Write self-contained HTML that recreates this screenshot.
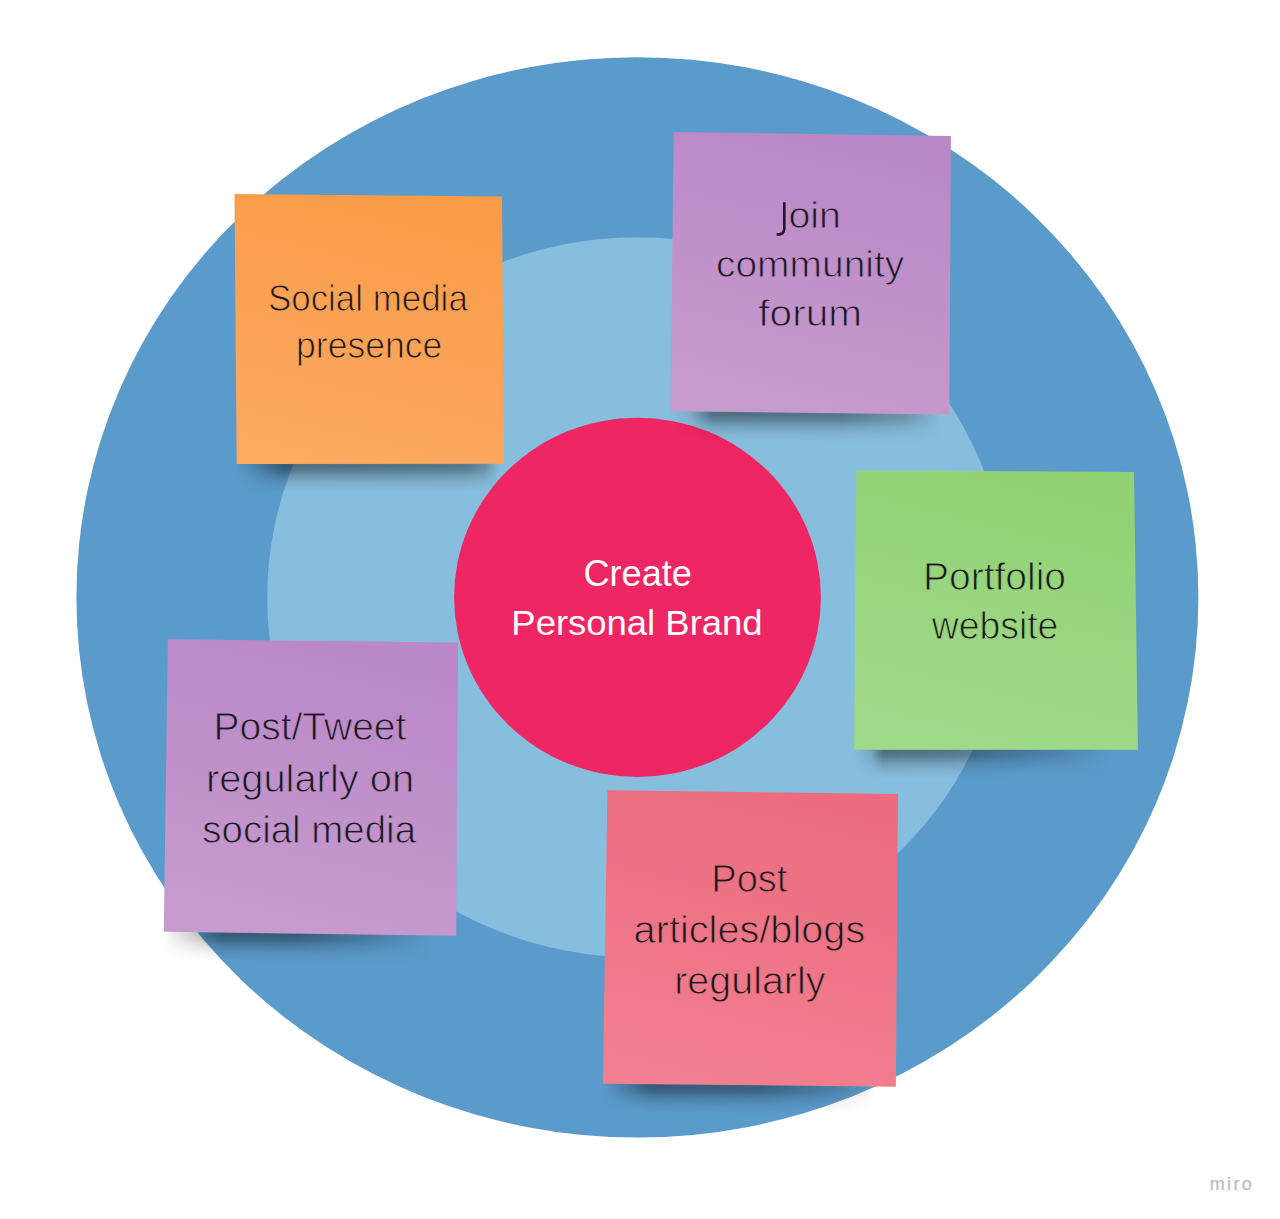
<!DOCTYPE html>
<html>
<head>
<meta charset="utf-8">
<style>
html,body{margin:0;padding:0;background:#ffffff;overflow:hidden;}
body{width:1280px;height:1219px;overflow:hidden;position:relative;}
svg{position:absolute;left:0;top:0;display:block;}
text{font-family:"Liberation Sans", sans-serif;}
.dk{fill:#1c1a1e;}
</style>
</head>
<body>
<svg width="1280" height="1219" viewBox="0 0 1280 1219">
<defs>
  <filter id="sb" x="-10%" y="-50%" width="120%" height="200%"><feGaussianBlur stdDeviation="1.5"/></filter>
  <linearGradient id="sv" x1="0" y1="0" x2="0" y2="1">
    <stop offset="0" stop-color="#000" stop-opacity="0.46"/>
    <stop offset="0.25" stop-color="#000" stop-opacity="0.37"/>
    <stop offset="0.5" stop-color="#000" stop-opacity="0.18"/>
    <stop offset="0.75" stop-color="#000" stop-opacity="0.06"/>
    <stop offset="1" stop-color="#000" stop-opacity="0"/>
  </linearGradient>
  <filter id="blur" x="-20%" y="-50%" width="140%" height="200%"><feGaussianBlur stdDeviation="5"/></filter>
  <linearGradient id="gOr" gradientUnits="userSpaceOnUse" x1="401.8" y1="195" x2="337.2" y2="464">
    <stop offset="0" stop-color="#f99c48"/><stop offset="1" stop-color="#fca961"/>
  </linearGradient>
  <linearGradient id="gPu1" gradientUnits="userSpaceOnUse" x1="844.6" y1="134" x2="777.4" y2="413">
    <stop offset="0" stop-color="#ba87c7"/><stop offset="1" stop-color="#c69bce"/>
  </linearGradient>
  <linearGradient id="gGr" gradientUnits="userSpaceOnUse" x1="1030.1" y1="471" x2="961.9" y2="750">
    <stop offset="0" stop-color="#91d274"/><stop offset="1" stop-color="#a1d98a"/>
  </linearGradient>
  <linearGradient id="gPu2" gradientUnits="userSpaceOnUse" x1="346.3" y1="641" x2="275.7" y2="934">
    <stop offset="0" stop-color="#ba87c7"/><stop offset="1" stop-color="#c69bce"/>
  </linearGradient>
  <linearGradient id="gPk" gradientUnits="userSpaceOnUse" x1="785.9" y1="792" x2="715.1" y2="1085">
    <stop offset="0" stop-color="#ec6b7f"/><stop offset="1" stop-color="#f17f8f"/>
  </linearGradient>
  <linearGradient id="mx_or" x1="0" y1="0" x2="1" y2="0"><stop offset="0" stop-color="#fff" stop-opacity="0"/><stop offset="0.04" stop-color="#fff" stop-opacity="0.2"/><stop offset="0.17" stop-color="#fff" stop-opacity="1"/><stop offset="0.85" stop-color="#fff" stop-opacity="0.9"/><stop offset="0.93" stop-color="#fff" stop-opacity="0.6"/><stop offset="0.985" stop-color="#fff" stop-opacity="0"/></linearGradient>
  <mask id="m_or" maskContentUnits="objectBoundingBox"><rect x="0" y="0" width="1" height="1" fill="url(#mx_or)"/></mask>
  <linearGradient id="mx_pu1" x1="0" y1="0" x2="1" y2="0"><stop offset="0" stop-color="#fff" stop-opacity="0"/><stop offset="0.07" stop-color="#fff" stop-opacity="0.2"/><stop offset="0.15" stop-color="#fff" stop-opacity="1"/><stop offset="0.6" stop-color="#fff" stop-opacity="0.9"/><stop offset="0.85" stop-color="#fff" stop-opacity="0.5"/><stop offset="0.97" stop-color="#fff" stop-opacity="0"/></linearGradient>
  <mask id="m_pu1" maskContentUnits="objectBoundingBox"><rect x="0" y="0" width="1" height="1" fill="url(#mx_pu1)"/></mask>
  <linearGradient id="mx_gr" x1="0" y1="0" x2="1" y2="0"><stop offset="0" stop-color="#fff" stop-opacity="0"/><stop offset="0.06" stop-color="#fff" stop-opacity="0.3"/><stop offset="0.1" stop-color="#fff" stop-opacity="1"/><stop offset="0.35" stop-color="#fff" stop-opacity="0.9"/><stop offset="0.55" stop-color="#fff" stop-opacity="0.6"/><stop offset="0.75" stop-color="#fff" stop-opacity="0.3"/><stop offset="0.9" stop-color="#fff" stop-opacity="0"/></linearGradient>
  <mask id="m_gr" maskContentUnits="objectBoundingBox"><rect x="0" y="0" width="1" height="1" fill="url(#mx_gr)"/></mask>
  <linearGradient id="mx_pu2" x1="0" y1="0" x2="1" y2="0"><stop offset="0" stop-color="#fff" stop-opacity="0"/><stop offset="0.04" stop-color="#fff" stop-opacity="0.2"/><stop offset="0.12" stop-color="#fff" stop-opacity="0.55"/><stop offset="0.2" stop-color="#fff" stop-opacity="1"/><stop offset="0.45" stop-color="#fff" stop-opacity="0.95"/><stop offset="0.7" stop-color="#fff" stop-opacity="0.5"/><stop offset="0.92" stop-color="#fff" stop-opacity="0"/></linearGradient>
  <mask id="m_pu2" maskContentUnits="objectBoundingBox"><rect x="0" y="0" width="1" height="1" fill="url(#mx_pu2)"/></mask>
  <linearGradient id="mx_pk" x1="0" y1="0" x2="1" y2="0"><stop offset="0" stop-color="#fff" stop-opacity="0"/><stop offset="0.05" stop-color="#fff" stop-opacity="0.3"/><stop offset="0.16" stop-color="#fff" stop-opacity="1"/><stop offset="0.55" stop-color="#fff" stop-opacity="0.9"/><stop offset="0.78" stop-color="#fff" stop-opacity="0.45"/><stop offset="0.93" stop-color="#fff" stop-opacity="0"/></linearGradient>
  <mask id="m_pk" maskContentUnits="objectBoundingBox"><rect x="0" y="0" width="1" height="1" fill="url(#mx_pk)"/></mask>
</defs>

<!-- circles -->
<ellipse cx="637.4" cy="597.4" rx="561" ry="540.2" fill="#5b9bcb"/>
<ellipse cx="637.4" cy="597.4" rx="370.2" ry="360.1" fill="#88bedd"/>
<ellipse cx="637.5" cy="597.3" rx="183.4" ry="179.6" fill="#ee2663"/>
<text x="637.7" y="586" font-size="36.0" fill="#ffffff" text-anchor="middle" transform="translate(637.7 0) scale(1.0045 1) translate(-637.7 0)">Create</text>
<text x="637.0" y="635" font-size="36.0" fill="#ffffff" text-anchor="middle" transform="translate(637.0 0) scale(1.0129 1) translate(-637.0 0)">Personal Brand</text>

<!-- orange note -->
<rect x="236.7" y="462.4" width="267.3" height="30" fill="url(#sv)" mask="url(#m_or)" transform="rotate(-0.021 236.7 463.9)" filter="url(#sb)"/>
<polygon points="234.5,194 502,196.6 504,463.8 236.7,463.9" fill="url(#gOr)"/>
<text class="dk" x="367.88" y="311" font-size="36.8" text-anchor="middle" transform="translate(367.88 0) scale(0.9490 1) translate(-367.88 0)" stroke="url(#gOr)" stroke-width="0.9">Social media</text>
<text class="dk" x="369.19" y="358" font-size="36.8" text-anchor="middle" transform="translate(369.19 0) scale(0.9666 1) translate(-369.19 0)" stroke="url(#gOr)" stroke-width="0.9">presence</text>

<!-- purple note 1 -->
<rect x="670.4" y="409.7" width="278.9" height="30" fill="url(#sv)" mask="url(#m_pu1)" transform="rotate(0.657 670.4 411.2)" filter="url(#sb)"/>
<polygon points="673.8,132 950.9,136.1 949.3,414.4 670.4,411.2" fill="url(#gPu1)"/>
<path d="M784.3,202.2 V228.6 C784.3,233.2 781.6,234.9 776.6,234.2" fill="none" stroke="#1c1a1e" stroke-width="2.6"/>
<text class="dk" x="788.4" y="228" font-size="37.2" transform="translate(788.4 0) scale(1.06 1) translate(-788.4 0)" stroke="url(#gPu1)" stroke-width="0.9">oin</text>
<text class="dk" x="810.15" y="277" font-size="37.2" text-anchor="middle" transform="translate(810.15 0) scale(1.0474 1) translate(-810.15 0)" stroke="url(#gPu1)" stroke-width="0.9">community</text>
<text class="dk" x="810.16" y="326" font-size="37.2" text-anchor="middle" transform="translate(810.16 0) scale(1.0897 1) translate(-810.16 0)" stroke="url(#gPu1)" stroke-width="0.9">forum</text>

<!-- green note -->
<rect x="854.1" y="748.3" width="283.8" height="30" fill="url(#sv)" mask="url(#m_gr)" transform="rotate(-0.020 854.1 749.8)" filter="url(#sb)"/>
<polygon points="856.4,470.4 1134,471.9 1137.9,749.7 854.1,749.8" fill="url(#gGr)"/>
<text class="dk" x="994.49" y="590" font-size="38.2" text-anchor="middle" transform="translate(994.49 0) scale(1.0213 1) translate(-994.49 0)" stroke="url(#gGr)" stroke-width="0.9">Portfolio</text>
<text class="dk" x="995.09" y="639" font-size="38.2" text-anchor="middle" transform="translate(995.09 0) scale(0.9776 1) translate(-995.09 0)" stroke="url(#gGr)" stroke-width="0.9">website</text>

<!-- purple note 2 -->
<rect x="163.8" y="930.2" width="292.4" height="30" fill="url(#sv)" mask="url(#m_pu2)" transform="rotate(0.803 163.8 931.7)" filter="url(#sb)"/>
<polygon points="167.9,639.2 458.1,642.6 456.2,935.8 163.8,931.7" fill="url(#gPu2)"/>
<text class="dk" x="309.93" y="740" font-size="38.2" text-anchor="middle" transform="translate(309.93 0) scale(1.0214 1) translate(-309.93 0)" stroke="url(#gPu2)" stroke-width="0.9">Post/Tweet</text>
<text class="dk" x="309.98" y="792" font-size="38.2" text-anchor="middle" transform="translate(309.98 0) scale(1.0435 1) translate(-309.98 0)" stroke="url(#gPu2)" stroke-width="0.9">regularly on</text>
<text class="dk" x="309.19" y="843" font-size="38.2" text-anchor="middle" transform="translate(309.19 0) scale(1.0066 1) translate(-309.19 0)" stroke="url(#gPu2)" stroke-width="0.9">social media</text>

<!-- pink note -->
<rect x="602.9" y="1082.2" width="293.0" height="30" fill="url(#sv)" mask="url(#m_pk)" transform="rotate(0.587 602.9 1083.7)" filter="url(#sb)"/>
<polygon points="607.4,790.3 898,794 895.9,1086.7 602.9,1083.7" fill="url(#gPk)"/>
<text class="dk" x="749.33" y="892" font-size="38.8" text-anchor="middle" transform="translate(749.33 0) scale(0.9803 1) translate(-749.33 0)" stroke="url(#gPk)" stroke-width="0.9">Post</text>
<text class="dk" x="749.45" y="943" font-size="38.8" text-anchor="middle" transform="translate(749.45 0) scale(1.0233 1) translate(-749.45 0)" stroke="url(#gPk)" stroke-width="0.9">articles/blogs</text>
<text class="dk" x="749.83" y="994" font-size="38.8" text-anchor="middle" transform="translate(749.83 0) scale(1.0175 1) translate(-749.83 0)" stroke="url(#gPk)" stroke-width="0.9">regularly</text>

<!-- watermark -->
<text x="1231.9" y="1189.7" font-size="18" fill="#bcbcc6" text-anchor="middle" letter-spacing="2.3" stroke="#bcbcc6" stroke-width="0.25">miro</text>
</svg>
</body>
</html>
